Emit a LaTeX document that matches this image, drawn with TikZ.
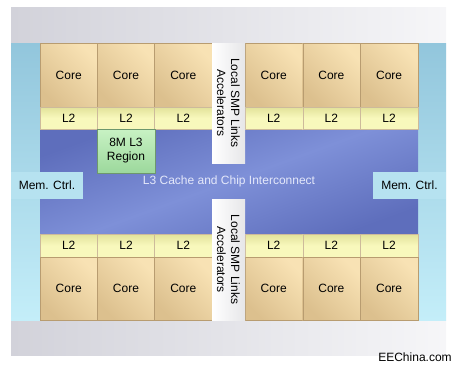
\documentclass[tikz,border=0pt]{standalone}
\usepackage{fontspec}
\setmainfont{Liberation Sans}
\usetikzlibrary{positioning}

\definecolor{framegray}{HTML}{D2D2DA}
\definecolor{framelight}{HTML}{F6F6F8}
\definecolor{sidedark}{HTML}{92C6DC}
\definecolor{sidelight}{HTML}{C4EEF9}
\definecolor{coredark}{HTML}{DCC08E}
\definecolor{corelight}{HTML}{F8E2B4}
\definecolor{coreedge}{HTML}{B89C70}
\definecolor{ltwodark}{HTML}{E2E29A}
\definecolor{ltwolight}{HTML}{F8F8BC}
\definecolor{busdark}{HTML}{5E6EBC}
\definecolor{buslight}{HTML}{7E90D8}
\definecolor{regiondark}{HTML}{9CD89C}
\definecolor{regionlight}{HTML}{C8F2C4}
\definecolor{memfill}{HTML}{B6E2F0}
\definecolor{smpfill}{HTML}{E6E6E8}
\definecolor{bustext}{HTML}{E4E8FA}

\begin{document}
\begin{tikzpicture}[
    x=1pt, y=-1pt,
    blk/.style={rectangle, inner sep=0pt, outer sep=0pt, anchor=north west, align=center, font=\fontsize{12}{14}\selectfont},
    core/.style={blk, minimum width=57.4pt, minimum height=64pt, left color=coredark, right color=corelight, shading angle=135, draw=coreedge, line width=0.3pt},
    ltwo/.style={blk, minimum width=57.4pt, minimum height=22pt, top color=ltwodark, bottom color=ltwolight, middle color=ltwolight, draw=coreedge!70, line width=0.3pt},
    region/.style={blk, minimum width=57.4pt, minimum height=44pt, top color=regionlight, bottom color=regiondark, draw=regiondark!70!black, line width=0.3pt},
    memctrl/.style={blk, minimum width=72pt, minimum height=27pt, fill=memfill},
    smp/.style={blk, anchor=center, rotate=-90, minimum height=33pt, left color=white, right color=smpfill}
  ]
  \useasboundingbox (0,0) rectangle (457,370);
  % Frame
  \node[blk, minimum width=435pt, minimum height=348pt, left color=framegray, right color=framelight] (frame) at (11,7) {};
  \node[blk, minimum width=29pt, minimum height=277pt, top color=sidedark, bottom color=sidelight] (sidel) at (11,43) {};
  \node[blk, minimum width=28pt, minimum height=277pt, top color=sidedark, bottom color=sidelight] (sider) at (418,43) {};
  \node[blk, minimum width=378pt, minimum height=105pt, top color=busdark, bottom color=busdark, middle color=buslight, shading angle=20, text=bustext] (bus) at (40,129) {L3 Cache and Chip Interconnect};

  % Top cores
  \node[core] (core1) at (40,43) {Core};
  \node[core] (core2) at (97.3,43) {Core};
  \node[core] (core3) at (154.6,43) {Core};
  \node[core] (core4) at (245,43) {Core};
  \node[core] (core5) at (302.7,43) {Core};
  \node[core] (core6) at (360.4,43) {Core};
  \node[ltwo] (ltwo1) at (40,107) {L2};
  \node[ltwo] (ltwo2) at (97.3,107) {L2};
  \node[ltwo] (ltwo3) at (154.6,107) {L2};
  \node[ltwo] (ltwo4) at (245,107) {L2};
  \node[ltwo] (ltwo5) at (302.7,107) {L2};
  \node[ltwo] (ltwo6) at (360.4,107) {L2};
  \node[region] (lthree) at (97.3,129) {8M L3\\Region};

  % Bottom cores
  \node[ltwo, minimum height=23pt] (ltwo7) at (40,234) {L2};
  \node[ltwo, minimum height=23pt] (ltwo8) at (97.3,234) {L2};
  \node[ltwo, minimum height=23pt] (ltwo9) at (154.6,234) {L2};
  \node[ltwo, minimum height=23pt] (ltwo10) at (245,234) {L2};
  \node[ltwo, minimum height=23pt] (ltwo11) at (302.7,234) {L2};
  \node[ltwo, minimum height=23pt] (ltwo12) at (360.4,234) {L2};
  \node[core, minimum height=63pt] (core7) at (40,257) {Core};
  \node[core, minimum height=63pt] (core8) at (97.3,257) {Core};
  \node[core, minimum height=63pt] (core9) at (154.6,257) {Core};
  \node[core, minimum height=63pt] (core10) at (245,257) {Core};
  \node[core, minimum height=63pt] (core11) at (302.7,257) {Core};
  \node[core, minimum height=63pt] (core12) at (360.4,257) {Core};

  % Memory controllers and SMP links
  \node[memctrl] (meml) at (11,172) {Mem. Ctrl.};
  \node[memctrl, minimum width=73pt] (memr) at (373,172) {Mem. Ctrl.};
  \node[smp, minimum width=120pt] (smptop) at (228.5,103) {Local SMP Links\\Accelerators};
  \node[smp, minimum width=121pt] (smpbot) at (228.5,259.5) {Local SMP Links\\Accelerators};

  \node[font=\fontsize{12}{14}\selectfont, inner sep=0pt] (mark) at (415,357) {EEChina.com};
\end{tikzpicture}
\end{document}
